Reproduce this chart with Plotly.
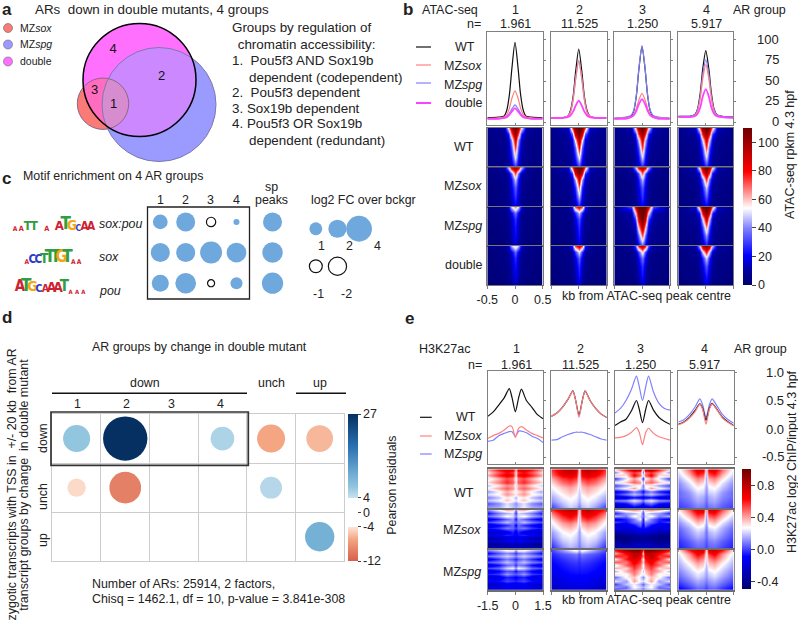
import numpy as np
import plotly.graph_objects as go

W, H = 798, 624
FONT = "Liberation Sans"
TXT = "#222222"
BASE_SIZE = 12.5

# ---------- panel a ----------
venn_names = ["MZ<i>sox</i>", "MZ<i>spg</i>", "double"]
venn_x = [103.0, 159.0, 139.5]
venn_y = [103.7, 104.5, 80.0]
venn_r = [25.7, 57.0, 56.5]
venn_colors = ["#fa7a78", "#9a9aff", "#ff70ff"]
venn_group_labels = ["1", "2", "3", "4"]
venn_group_x = [113.5, 161.5, 94.5, 113]
venn_group_y = [105, 77, 91, 50]
group_text = [
    (231, 28, "Groups by regulation of"),
    (233, 44.5, " chromatin accessibility:"),
    (231, 61, "1.&nbsp;&nbsp;Pou5f3 AND Sox19b"),
    (248, 77, "dependent (codependent)"),
    (231, 92, "2.&nbsp;&nbsp;Pou5f3 dependent"),
    (231, 108, "3. Sox19b dependent"),
    (231, 124, "4. Pou5f3 OR Sox19b"),
    (248, 140, "dependent (redundant)"),
]

# ---------- panel b ----------
ar_groups = ["1", "2", "3", "4"]
ar_counts = ["1.961", "11.525", "1.250", "5.917"]
atac_x = [-.5, -.3, -.2, -.15, -.1, -.055, 0, .055, .1, .15, .2, .3, .5]
atac_wt = [
    [5, 6, 7, 14, 34, 66, 97, 66, 34, 14, 7, 6, 5],
    [5, 5, 7, 14, 32, 62, 89, 62, 32, 14, 7, 5, 5],
    [4, 5, 7, 13, 33, 65, 92, 65, 33, 13, 7, 5, 4],
    [7, 7, 9, 16, 36, 65, 87, 65, 36, 16, 9, 7, 6],
]
atac_sox = [
    [4, 5, 6, 9, 17, 29, 38, 29, 17, 9, 6, 5, 4],
    [5, 5, 7, 12, 28, 53, 75, 53, 28, 12, 7, 5, 5],
    [4, 5, 6, 9, 17, 27, 35, 27, 17, 9, 6, 5, 4],
    [6, 6, 8, 13, 29, 53, 70, 53, 29, 13, 8, 6, 5],
]
atac_spg = [
    [4, 4, 5, 7, 11, 16, 21, 16, 11, 7, 5, 4, 4],
    [5, 5, 7, 12, 28, 53, 75, 53, 28, 12, 7, 5, 5],
    [5, 6, 8, 14, 34, 66, 93, 66, 34, 14, 8, 6, 5],
    [7, 7, 9, 15, 32, 58, 76, 58, 32, 15, 9, 7, 6],
]
atac_double = [
    [4, 4, 5, 6, 9, 13, 17, 13, 9, 6, 5, 4, 4],
    [5, 5, 6, 8, 13, 20, 26, 20, 13, 8, 6, 5, 5],
    [4, 4, 6, 8, 14, 22, 28, 22, 14, 8, 6, 4, 4],
    [6, 6, 7, 10, 18, 31, 40, 31, 18, 10, 7, 6, 5],
]
atac_heat_half_x = [.5, .2, .12, .06, 0]
atac_heat_rows = [0, .15, .3, .5, .75, 1]
atac_heat = {
    "WT": [
        [[6, 10, 55, 95, 110], [5, 8, 24, 70, 105], [5, 7, 14, 42, 92], [4, 6, 12, 30, 75], [4, 6, 10, 22, 55], [3, 5, 8, 14, 28]],
        [[7, 14, 70, 108, 110], [6, 10, 34, 88, 110], [6, 9, 17, 55, 100], [5, 8, 13, 34, 80], [5, 7, 11, 24, 55], [4, 6, 9, 15, 28]],
        [[6, 12, 58, 100, 110], [6, 9, 26, 75, 105], [5, 8, 15, 46, 92], [5, 7, 12, 30, 75], [4, 6, 10, 21, 52], [4, 5, 8, 14, 26]],
        [[6, 14, 62, 104, 110], [6, 10, 28, 80, 105], [5, 8, 15, 50, 92], [5, 7, 12, 30, 75], [4, 6, 10, 21, 52], [4, 5, 8, 14, 26]],
    ],
    "sox": [
        [[5, 10, 48, 92, 100], [4, 7, 12, 35, 75], [4, 6, 10, 22, 50], [3, 5, 9, 18, 35], [3, 5, 8, 15, 28], [3, 4, 7, 12, 20]],
        [[7, 14, 70, 110, 110], [6, 10, 28, 85, 105], [5, 8, 15, 45, 90], [5, 7, 12, 27, 68], [4, 6, 10, 19, 45], [4, 5, 8, 13, 25]],
        [[5, 10, 45, 88, 95], [4, 7, 12, 33, 72], [4, 6, 10, 23, 48], [3, 5, 9, 18, 34], [3, 5, 8, 15, 28], [3, 4, 7, 12, 20]],
        [[6, 12, 60, 100, 110], [5, 9, 21, 72, 98], [5, 7, 13, 36, 78], [4, 6, 10, 23, 50], [4, 5, 9, 17, 34], [3, 5, 7, 12, 20]],
    ],
    "spg": [
        [[4, 7, 16, 50, 68], [3, 5, 9, 20, 38], [3, 5, 8, 15, 28], [3, 4, 7, 13, 24], [2, 4, 6, 12, 22], [2, 3, 5, 9, 15]],
        [[5, 8, 25, 72, 85], [4, 6, 10, 26, 48], [4, 5, 8, 18, 32], [3, 5, 7, 14, 27], [3, 4, 6, 12, 24], [3, 4, 5, 9, 16]],
        [[8, 30, 90, 110, 110], [7, 12, 55, 105, 110], [6, 10, 30, 90, 110], [5, 8, 16, 60, 100], [5, 7, 11, 34, 72], [4, 6, 9, 18, 34]],
        [[7, 16, 70, 110, 110], [6, 10, 26, 85, 108], [6, 8, 14, 50, 95], [5, 7, 11, 30, 68], [4, 6, 9, 20, 42], [4, 5, 8, 13, 24]],
    ],
    "double": [
        [[4, 7, 15, 45, 60], [3, 5, 9, 18, 36], [3, 5, 8, 14, 27], [3, 4, 7, 12, 23], [2, 4, 6, 11, 20], [2, 3, 5, 8, 14]],
        [[5, 8, 24, 72, 88], [4, 6, 10, 28, 52], [4, 5, 8, 18, 34], [3, 5, 7, 14, 27], [3, 4, 6, 12, 24], [3, 4, 5, 9, 16]],
        [[5, 8, 30, 78, 95], [4, 6, 10, 30, 58], [4, 5, 8, 20, 38], [3, 5, 7, 15, 28], [3, 4, 6, 12, 24], [3, 4, 5, 9, 16]],
        [[6, 10, 45, 95, 105], [5, 7, 14, 48, 80], [4, 6, 10, 25, 50], [4, 5, 9, 18, 34], [3, 5, 8, 14, 26], [3, 4, 6, 10, 17]],
    ],
}

# ---------- panel c ----------
motif_names = ["sox:pou", "sox", "pou"]
motif_group_log2 = [
    [1.3, 2.17, -0.52, 0.22],
    [2.17, 2.17, 2.9, 2.33],
    [1.74, 2.57, -0.3, 0.87],
]
motif_sp_log2 = [2.17, 2.5, 2.72]
fc_legend_top = [1, 2, 4]
fc_legend_bottom = [-1, -2]
logo1_letters = ["a", "a", "T", "T", "a", "A", "T", "G", "c", "A", "A"]
logo1_pos = [0, 1, 2, 3, 5, 7, 8, 9, 10, 11, 12]
logo1_bits = [.4, .5, 1.3, 1.3, .5, 1.4, 2.0, 1.5, .7, 1.2, 1.2]
logo2_letters = ["a", "C", "C", "T", "T", "T", "G", "T", "a", "a"]
logo2_pos = [0, 1, 2, 3, 4, 5, 6, 7, 8, 9]
logo2_bits = [.4, 1.2, 1.2, 1.5, 2.0, 2.0, 2.0, 2.0, .4, .4]
logo3_letters = ["A", "T", "G", "C", "A", "A", "A", "T", "a", "a", "a"]
logo3_pos = [0, 1, 2, 3, 4, 5, 6, 7, 8, 9, 10]
logo3_bits = [1.7, 2.0, 1.6, 1.0, 1.0, 1.5, 1.5, 1.7, .3, .3, .3]
logo_colors = {"A": "#cf2230", "a": "#cf2230", "T": "#2f9e41", "G": "#f3a712", "C": "#2a3bc8", "c": "#2a3bc8"}

# ---------- panel d ----------
d_col = [1, 2, 4, 5, 6, 1, 2, 5, 6]
d_row = [1, 1, 1, 1, 1, 2, 2, 2, 3]
d_residual = [7, 27, 5.5, -7.5, -6.5, -4.6, -10.5, 5, 10]
d_weight = [10.2, 27.4, 7.8, 10.9, 9.9, 4.7, 14.0, 6.7, 12.0]
d_scale_values = [-13.4, -10.5, -7.5, -4.01, -4, 4, 4.01, 7, 10, 18, 27]
d_scale_colors = ["#d6604d", "#e48066", "#f4a582", "#fde5d9", "#ffffff", "#ffffff", "#c8e0ee", "#92c5de", "#75b0d5", "#2a71b2", "#053061"]

# ---------- panel e ----------
k27_x = [-1.5, -1.2, -.9, -.6, -.33, -.18, 0, .18, .33, .6, .9, 1.2, 1.5]
k27_wt = [
    [.22, .30, .42, .55, .71, .55, .30, .55, .70, .50, .38, .25, .18],
    [.22, .28, .38, .52, .67, .50, .24, .50, .67, .50, .36, .26, .20],
    [.06, .12, .17, .32, .50, .35, .11, .35, .50, .33, .20, .13, .08],
    [.08, .12, .20, .32, .44, .36, .15, .36, .45, .34, .20, .12, .06],
]
k27_sox = [
    [-.17, -.12, -.08, -.02, .05, .04, -.15, .01, .04, -.02, -.08, -.12, -.16],
    [.22, .28, .38, .52, .66, .50, .20, .50, .66, .50, .36, .26, .20],
    [-.16, -.15, -.12, -.06, .02, -.06, -.28, -.06, .01, -.08, -.14, -.17, -.20],
    [.07, .11, .19, .30, .43, .34, .08, .34, .44, .33, .19, .11, .05],
]
k27_spg = [
    [-.22, -.20, -.12, -.08, -.05, -.05, -.13, -.04, -.04, -.07, -.13, -.17, -.24],
    [-.20, -.19, -.14, -.10, -.07, -.06, -.06, -.06, -.07, -.10, -.14, -.18, -.20],
    [.28, .36, .50, .70, .93, .75, .50, .75, .93, .65, .45, .36, .33],
    [.12, .16, .25, .38, .53, .42, .20, .42, .53, .40, .25, .16, .10],
]
k27_heat_half_x = [1.5, .9, .45, .12, 0]
k27_heat = {
    "WT": [
        [[42, 62, 72, 70, 38], [30, 50, 62, 55, 30], [38, 58, 68, 62, 32], [22, 38, 52, 45, 22], [32, 45, 58, 50, 30], [18, 30, 42, 38, 20], [28, 40, 50, 42, 28], [12, 25, 38, 30, 22], [22, 28, 42, 35, 30], [8, 18, 30, 25, 15], [18, 25, 35, 28, 22], [2, 10, 22, 16, 10], [12, 15, 25, 18, 15], [-2, 4, 14, 8, 4]],
        [[55, 75, 80, 75, 25], [48, 68, 72, 65, 22], [38, 55, 60, 55, 20], [30, 45, 50, 42, 22], [25, 35, 40, 35, 20], [20, 30, 35, 30, 18], [15, 25, 30, 25, 18], [10, 20, 25, 22, 15], [2, 15, 22, 18, 10], [-5, 8, 16, 12, 5]],
        [[35, 60, 85, 80, 20], [8, 40, 55, 45, 8], [38, 30, 65, 48, 25], [-3, 22, 40, 25, 0], [25, 35, 50, 42, 18], [0, 12, 22, 28, 8], [15, 28, 42, 22, 12], [-15, -6, 8, 0, -10], [-3, 8, 18, 12, 4], [-25, -20, -8, -14, -16], [8, 12, 25, 18, 8], [-14, -8, 6, 0, -8], [-30, -24, -12, -18, -22], [-25, -20, -15, -12, -20]],
        [[25, 48, 72, 68, 20], [20, 38, 60, 52, 15], [15, 30, 45, 40, 12], [10, 22, 35, 30, 15], [8, 18, 28, 25, 12], [5, 12, 22, 20, 10], [5, 10, 18, 15, 8], [2, 7, 14, 12, 5], [0, 4, 10, 8, 3], [-3, 2, 6, 5, 0]],
    ],
    "sox": [
        [[8, 25, 38, 35, 5], [-8, 8, 15, 20, -2], [5, 15, 28, 22, 8], [-15, -5, 5, 12, -8], [0, 8, 18, 10, 5], [-20, -10, -3, 5, -12], [-8, -2, 8, 5, -2], [-28, -20, -15, -5, -18], [-15, -12, -5, -8, -10], [-35, -30, -22, -15, -25], [-25, -20, -15, -10, -18], [-42, -38, -32, -28, -35], [-32, -28, -30, -25, -30], [-45, -42, -38, -35, -40]],
        [[55, 72, 78, 72, 20], [42, 62, 70, 62, 18], [30, 50, 58, 50, 15], [24, 40, 45, 38, 18], [18, 32, 36, 30, 15], [12, 26, 30, 24, 12], [8, 22, 25, 20, 12], [3, 18, 22, 18, 10], [-3, 12, 18, 14, 8], [-10, 5, 12, 10, 5]],
        [[20, 35, 42, 35, 12], [-5, 12, 15, 25, 2], [15, 8, 28, 20, 5], [-15, -5, 8, 25, -5], [0, -8, 5, 10, -5], [-22, -15, -8, 5, -12], [-12, -20, -15, -8, -10], [-35, -28, -25, -20, -25], [-42, -40, -38, -32, -35], [-48, -45, -42, -40, -42], [-38, -42, -35, -38, -32], [-30, -35, -28, -25, -30], [-35, -28, -32, -30, -28], [-25, -30, -22, -20, -25]],
        [[28, 50, 72, 70, 15], [22, 40, 60, 55, 12], [15, 30, 45, 40, 10], [10, 22, 35, 30, 12], [5, 15, 25, 22, 8], [2, 12, 20, 16, 6], [0, 8, 15, 12, 5], [-3, 4, 10, 8, 2], [-5, 1, 6, 5, 0], [-7, -2, 4, 3, 0]],
    ],
    "spg": [
        [[8, 18, 28, 30, 12], [-10, 2, 10, 5, -2], [5, 12, 20, 15, 8], [-15, -3, 8, 2, -5], [2, 8, 18, 12, 5], [-18, -8, 5, 8, -3], [0, 5, 20, 25, 10], [-20, -10, 2, 0, -8], [-5, -2, 12, 5, 3], [-22, -15, -5, -8, -12], [-10, -8, 0, -3, -5], [-28, -22, -12, -15, -18], [-18, -15, -10, -12, -12], [-35, -30, -25, -22, -28]],
        [[0, 12, 22, 30, 15], [-5, 2, 5, 8, 2], [-8, -3, 0, 2, -2], [-10, -6, -3, -2, -4], [-12, -8, -6, -5, -6], [-15, -10, -8, -7, -8], [-18, -14, -10, -10, -10], [-20, -16, -13, -12, -14], [-24, -20, -18, -16, -16], [-28, -24, -22, -20, -22]],
        [[62, 88, 95, 95, 55], [40, 65, 80, 78, 35], [58, 55, 80, 68, 45], [30, 58, 72, 60, 28], [50, 45, 68, 55, 35], [22, 48, 60, 48, 25], [38, 32, 55, 42, 30], [15, 38, 48, 35, 18], [32, 25, 45, 30, 28], [5, 28, 35, 22, 10], [22, 12, 40, 25, 22], [0, 18, 25, 15, 5], [12, 5, 28, 20, 15], [-8, 8, 15, 10, 0]],
        [[30, 60, 75, 72, 30], [22, 42, 65, 55, 25], [18, 35, 50, 42, 20], [15, 28, 40, 35, 18], [12, 22, 32, 28, 15], [8, 18, 26, 22, 14], [5, 14, 22, 18, 12], [0, 8, 15, 12, 8], [-5, 3, 10, 8, 3], [-12, -5, 3, 2, -3]],
    ],
}

C_WT, C_SOX, C_SPG, C_DBL = "#111111", "#ff8080", "#8080ff", "#ff40ff"
GREY = "#808080"

traces, annotations, shapes = [], [], []
layout = {}
axis_count = 0


def axes(x0, x1, y0, y1, xr, yr, xkw=None, ykw=None):
    """Create one pair of axes placed by pixel box."""
    global axis_count
    axis_count += 1
    s = "" if axis_count == 1 else str(axis_count)
    base = dict(showgrid=False, zeroline=False, showticklabels=False, ticks="", showline=False, fixedrange=True)
    xa = dict(base, domain=[x0 / W, x1 / W], range=xr, anchor="y" + s)
    ya = dict(base, domain=[1 - y1 / H, 1 - y0 / H], range=yr, anchor="x" + s)
    xa.update(xkw or {})
    ya.update(ykw or {})
    layout["xaxis" + s] = xa
    layout["yaxis" + s] = ya
    return "x" + s, "y" + s


def txt(x, y, s, anchor="left", size=None, angle=0, color=TXT, bold=False):
    if bold:
        s = "<b>" + s + "</b>"
    annotations.append(dict(x=x / W, y=1 - y / H, xref="paper", yref="paper", text=s, showarrow=False,
                            xanchor=anchor, yanchor="middle", textangle=angle,
                            font=dict(family=FONT, size=size or BASE_SIZE, color=color), borderpad=0))


def seg(x0, y0, x1, y1, color="#111111", width=1.5):
    shapes.append(dict(type="line", xref="paper", yref="paper", x0=x0 / W, x1=x1 / W, y0=1 - y0 / H, y1=1 - y1 / H,
                       line=dict(color=color, width=width)))


def mirror(half):
    return list(half) + list(half[-2::-1])


def lens(i, j, n=80):
    """Outline of the overlap of two Venn circles."""
    a = np.array([venn_x[i], venn_y[i]])
    b = np.array([venn_x[j], venn_y[j]])
    pts = []
    for c, o, r, ro in ((a, b, venn_r[i], venn_r[j]), (b, a, venn_r[j], venn_r[i])):
        d = np.hypot(*(o - c))
        base = np.arctan2(*(o - c)[::-1])
        half = np.arccos((d * d + r * r - ro * ro) / (2 * d * r))
        t = np.linspace(base - half, base + half, n)
        pts.append(np.c_[c[0] + r * np.cos(t), c[1] + r * np.sin(t)])
    return np.vstack(pts)


# ---------- panel a drawing ----------
BASE_SIZE = 13.4
xa, ya = axes(60, 230, 15, 170, [60, 230], [170, 15])
for idx in (1, 0, 2):
    traces.append(go.Scatter(x=[venn_x[idx]], y=[venn_y[idx]], mode="markers", xaxis=xa, yaxis=ya, cliponaxis=False,
                             marker=dict(size=2 * venn_r[idx], color=venn_colors[idx], line=dict(width=0))))
for (i, j), col in (((2, 1), "#cc88ff"), ((2, 0), "#ff6cc0"), ((0, 1), "#d88cd0")):
    p = lens(i, j)
    traces.append(go.Scatter(x=p[:, 0], y=p[:, 1], mode="lines", fill="toself", fillcolor=col, xaxis=xa, yaxis=ya,
                             line=dict(width=0), cliponaxis=False))
for idx, lc, lw in ((0, "#8a6a80", 1), (1, "#7a7ab0", 1), (2, "#000000", 1.5)):
    traces.append(go.Scatter(x=[venn_x[idx]], y=[venn_y[idx]], mode="markers", xaxis=xa, yaxis=ya, cliponaxis=False,
                             marker=dict(size=2 * venn_r[idx], color="rgba(0,0,0,0)", line=dict(width=lw, color=lc))))
traces.append(go.Scatter(x=venn_group_x, y=venn_group_y, mode="text", text=venn_group_labels, xaxis=xa, yaxis=ya,
                         textfont=dict(family=FONT, size=13, color="#111111"), cliponaxis=False))
xa, ya = axes(0, 60, 15, 75, [0, 60], [75, 15])
traces.append(go.Scatter(x=[8, 8, 8], y=[28, 44.5, 61.5], mode="markers", xaxis=xa, yaxis=ya,
                         marker=dict(size=9, color=["#fa7a78", "#9a9aff", "#ff70ff"], line=dict(width=.7, color="#777777"))))
for name, y in zip(venn_names, [28, 44.5, 61.5]):
    txt(19, y, name, size=10.5)
txt(1, 10, "a", size=17, bold=True)
txt(34, 10, "ARs&nbsp;&nbsp;down in double mutants, 4 groups")
for x, y, s in group_text:
    txt(x, y, s)

# ---------- panel b drawing ----------
BASE_SIZE = 12.5
col_x = [(487.3, 542.7), (551, 606.5), (614.3, 669.7), (678.3, 733.3)]
txt(402, 10, "b", size=17, bold=True)
txt(421, 10, "ATAC-seq")
txt(732, 10, "AR group")
txt(482, 24, "n=", "right")
for c, cx, cn in zip(ar_groups, [515, 579, 642, 706], ar_counts):
    txt(cx, 10, c, "center")
    txt(cx, 24, cn, "center")
for i, (x0, x1) in enumerate(col_x):
    xa, ya = axes(x0, x1, 32, 125, [-.5, .5], [-3.6, 109.7],
                  dict(tickvals=[-.5, 0, .5], ticks="inside", ticklen=2, tickcolor=GREY, showline=True, mirror=True, linecolor=GREY),
                  dict(tickvals=[0, 25, 50, 75, 100], ticks="outside", ticklen=2, tickcolor=GREY, side="right", showline=True, mirror=True, linecolor=GREY))
    for ser, col, w in ((atac_wt, C_WT, 1.2), (atac_spg, C_SPG, 1.2), (atac_sox, C_SOX, 1.2), (atac_double, C_DBL, 1.8)):
        traces.append(go.Scatter(x=atac_x, y=ser[i], mode="lines", xaxis=xa, yaxis=ya,
                                 line=dict(color=col, width=w, shape="spline", smoothing=.7)))
for y, col, w in ((47, C_WT, 1.2), (65, C_SOX, 1.2), (83, C_SPG, 1.2), (103, C_DBL, 2)):
    seg(416, y, 431, y, col, w)
txt(465, 47, "WT", "center")
txt(483, 66, "MZ<i>sox</i>", "right")
txt(483, 85, "MZ<i>spg</i>", "right")
txt(484, 103, "double", "right")
for v, y in zip(["100", "75", "50", "25", "0"], [39.5, 60, 80.5, 101, 122]):
    txt(780, y, v, "right", size=13)

b_rows = [("WT", 128, 167.3), ("sox", 167.3, 206.7), ("spg", 206.7, 246), ("double", 246, 285)]
heat_x_b = [-v for v in atac_heat_half_x] + atac_heat_half_x[-2::-1]
for key, y0, y1 in b_rows:
    for i, (x0, x1) in enumerate(col_x):
        xkw = dict(showline=True, mirror=True, linecolor="#777777", linewidth=1)
        if key == "double":
            xkw.update(tickvals=[-.5, 0, .5], ticks="outside", ticklen=3, tickcolor=GREY)
            if i == 0:
                xkw.update(showticklabels=True, ticktext=["-0.5", "0", "0.5"],
                           tickfont=dict(family=FONT, size=12.5, color=TXT))
        xa, ya = axes(x0, x1, y0, y1, [-.5, .5], [1, 0], xkw, dict(showline=True, mirror=True, linecolor="#777777"))
        z = [mirror(r) for r in atac_heat[key][i]]
        traces.append(go.Heatmap(x=heat_x_b, y=atac_heat_rows, z=z, coloraxis="coloraxis", zsmooth="best", xaxis=xa, yaxis=ya,
                                 hoverinfo="skip"))
txt(464, 147, "WT", "center")
txt(483, 186, "MZ<i>sox</i>", "right")
txt(483, 226, "MZ<i>spg</i>", "right")
txt(484, 265, "double", "right")
txt(561, 296, "kb from ATAC-seq peak centre")
txt(790, 155, "ATAC-seq rpkm 4.3 hpf", "center", angle=-90)

layout["coloraxis"] = dict(cmin=0, cmax=110, colorscale=[[0, "#000070"], [.09, "#00009c"], [.19, "#0000ff"], [.36, "#8080ff"], [.49, "#ffffff"], [.72, "#ff0000"], [1, "#6e0000"]],
                           colorbar=dict(x=743 / W, xanchor="left", y=1 - 128 / H, yanchor="top", lenmode="pixels", len=157, thicknessmode="pixels", thickness=9,
                                         tickvals=[0, 20, 40, 60, 80, 100], ticks="outside", ticklen=4, outlinewidth=0, xpad=0, ypad=0,
                                         tickfont=dict(family=FONT, size=12.5, color=TXT)))

# ---------- panel c drawing ----------
BASE_SIZE = 12.4
txt(1, 178, "c", size=17, bold=True)
txt(22, 176, "Motif enrichment on 4 AR groups")
for c, x in zip(ar_groups, [160, 185, 210.5, 236]):
    txt(x, 200, c, "center")
txt(271, 187, "sp", "center")
txt(271, 200, "peaks", "center")
txt(310, 200, "log2 FC over bckgr")
for name, y in zip(motif_names, [224.5, 257, 291]):
    txt(98, y, "<i>%s</i>" % name)

BLUE = "#6fa8dc"
SIZEREF = 2 / 12.9 ** 2
xa, ya = axes(147.5, 290, 207, 299, [.4957, 6.1087], [3.5147, .5131])
xs, ys, vs = [], [], []
for r, row in enumerate(motif_group_log2):
    for c, v in enumerate(row):
        xs.append(c + 1); ys.append(r + 1); vs.append(v)
    xs.append(5.42); ys.append(r + 1); vs.append(motif_sp_log2[r])
vs = np.array(vs)
traces.append(go.Scatter(x=np.array(xs)[vs > 0], y=np.array(ys)[vs > 0], mode="markers", xaxis=xa, yaxis=ya, cliponaxis=False,
                         marker=dict(size=vs[vs > 0], sizemode="area", sizeref=SIZEREF, color=BLUE, opacity=1, line=dict(width=0))))
traces.append(go.Scatter(x=np.array(xs)[vs < 0], y=np.array(ys)[vs < 0], mode="markers", xaxis=xa, yaxis=ya, cliponaxis=False,
                         marker=dict(size=-vs[vs < 0], sizemode="area", sizeref=SIZEREF, color="white", opacity=1, line=dict(width=1.2, color="#111111"))))
shapes.append(dict(type="rect", xref="paper", yref="paper", x0=147.5 / W, x1=249.5 / W, y0=1 - 299 / H, y1=1 - 207 / H,
                   line=dict(color="#222222", width=1.3)))
xa, ya = axes(305, 400, 210, 285, [.5, 4.892], [2.5, .5])
top_v = np.array(fc_legend_top, float)
traces.append(go.Scatter(x=[1, 2, 3], y=[1, 1, 1], mode="markers", xaxis=xa, yaxis=ya, cliponaxis=False,
                         marker=dict(size=top_v, sizemode="area", sizeref=SIZEREF, color=BLUE, opacity=1, line=dict(width=0))))
traces.append(go.Scatter(x=[1, 2], y=[2, 2], mode="markers", xaxis=xa, yaxis=ya, cliponaxis=False,
                         marker=dict(size=-np.array(fc_legend_bottom, float), sizemode="area", sizeref=SIZEREF, color="white", opacity=1,
                                     line=dict(width=1.2, color="#111111"))))
for x, v in zip([321, 349, 377], fc_legend_top):
    txt(x, 246, str(v), "center")
for x, v in zip([318, 346], fc_legend_bottom):
    txt(x, 294, str(v), "center")

for (x0, x1, y1, n, letters, pos, bits) in (
    (15, 91, 233, 12, logo1_letters, logo1_pos, logo1_bits),
    (26.7, 79, 266, 9, logo2_letters, logo2_pos, logo2_bits),
    (20, 83.3, 295, 10, logo3_letters, logo3_pos, logo3_bits),
):
    xa, ya = axes(x0, x1, y1 - 24, y1, [0, n], [0, 2.4])
    traces.append(go.Scatter(x=pos, y=[0] * len(pos), mode="text", text=[l.upper() for l in letters], xaxis=xa, yaxis=ya,
                             cliponaxis=False, textposition="top center",
                             textfont=dict(family="Liberation Sans Narrow, DejaVu Sans Condensed", size=[4 + 6.5 * b for b in bits],
                                           weight="bold", color=[logo_colors[l] for l in letters])))

# ---------- panel d drawing ----------
txt(1, 317, "d", size=17, bold=True)
txt(91, 346.7, "AR groups by change in double mutant")
txt(144.7, 383, "down", "center")
txt(271, 383, "unch", "center")
txt(320, 383, "up", "center")
seg(52, 393.3, 247, 393.3)
seg(296, 393.3, 346, 393.3)
for c, x in zip(ar_groups, [77.3, 126, 171.7, 220.7]):
    txt(x, 404.3, c, "center")
for s, y in zip(["down", "unch", "up"], [438, 497, 540]):
    txt(43, y, s, "center", angle=-90)
txt(11.5, 485, "zygotic transcripts with TSS in&nbsp;&nbsp;+/- 20 kb&nbsp;&nbsp;from AR", "center", angle=-90)
txt(23.7, 485, "transcript groups by change&nbsp;&nbsp;in double mutant", "center", angle=-90)
txt(391.7, 485, "Pearson residuals", "center", angle=-90)
txt(90.5, 584, "Number of ARs: 25914, 2 factors,")
txt(90.5, 599.3, "Chisq = 1462.1, df = 10, p-value = 3.841e-308")

grid = dict(showgrid=True, gridcolor="#cccccc", gridwidth=1, showline=True, mirror=True, linecolor="#cccccc")
xa, ya = axes(52.3, 344, 414, 561.3, [.5, 6.5], [3.5, .5],
              dict(grid, tickvals=[.5, 1.5, 2.5, 3.5, 4.5, 5.5, 6.5]), dict(grid, tickvals=[.5, 1.5, 2.5, 3.5]))
traces.append(go.Scatter(x=d_col, y=d_row, mode="markers", xaxis=xa, yaxis=ya, cliponaxis=False,
                         marker=dict(size=d_weight, sizemode="area", sizeref=2 / 8.47 ** 2, color=d_residual, opacity=1, coloraxis="coloraxis3", line=dict(width=0))))
shapes.append(dict(type="rect", xref="paper", yref="paper", x0=51 / W, x1=248.3 / W, y0=1 - 465.3 / H, y1=1 - 412 / H,
                   line=dict(color="#333333", width=1.7)))
span = d_scale_values[-1] - d_scale_values[0]
layout["coloraxis3"] = dict(cmin=d_scale_values[0], cmax=d_scale_values[-1],
                            colorscale=[[(v - d_scale_values[0]) / span, c] for v, c in zip(d_scale_values, d_scale_colors)],
                            colorbar=dict(x=348.3 / W, xanchor="left", y=1 - 414 / H, yanchor="top", lenmode="pixels", len=147.3, thicknessmode="pixels", thickness=10,
                                          tickvals=[27, 4, 0, -4, -13.4], ticktext=["27", "4", "0", "-4", "-12"], ticks="outside", ticklen=3, outlinewidth=0, xpad=0, ypad=0,
                                          tickfont=dict(family=FONT, size=12.5, color=TXT)))

# ---------- panel e drawing ----------
BASE_SIZE = 12.5
col_e = [(487.7, 543), (551.3, 606.7), (615, 670), (678.3, 733.7)]
txt(404, 318, "e", size=17, bold=True)
txt(418, 349.3, "H3K27ac")
txt(733, 349.3, "AR group")
txt(483, 365, "n=", "right")
for c, cx, cn in zip(ar_groups, [516, 580, 640, 704], ar_counts):
    txt(cx, 349.3, c, "center")
    txt(cx, 364.5, cn, "center")
for i, (x0, x1) in enumerate(col_e):
    xa, ya = axes(x0, x1, 371, 464, [-1.5, 1.5], [-.62, 1.02],
                  dict(tickvals=[-1.5, 0, 1.5], ticks="inside", ticklen=2, tickcolor=GREY, showline=True, mirror=True, linecolor=GREY),
                  dict(tickvals=[-.5, 0, .5, 1], ticks="outside", ticklen=2, tickcolor=GREY, side="right", showline=True, mirror=True, linecolor=GREY))
    for ser, col in ((k27_spg, C_SPG), (k27_wt, C_WT), (k27_sox, C_SOX)):
        traces.append(go.Scatter(x=k27_x, y=ser[i], mode="lines", xaxis=xa, yaxis=ya,
                                 line=dict(color=col, width=1.2, shape="spline", smoothing=.7)))
for y, col in ((417.3, C_WT), (436, C_SOX), (454, C_SPG)):
    seg(420, y, 431.7, y, col, 1.2)
txt(465.7, 417.3, "WT", "center")
txt(483, 436, "MZ<i>sox</i>", "right")
txt(483, 454, "MZ<i>spg</i>", "right")
for v, y in zip(["1.0", "0.5", "0.0", "-0.5"], [372.3, 400.7, 429, 457]):
    txt(785, y, v, "right", size=13)

e_rows = [("WT", 469.3, 510), ("sox", 510, 550), ("spg", 550, 589.7)]
heat_x_e = [-v for v in k27_heat_half_x] + k27_heat_half_x[-2::-1]
for key, y0, y1 in e_rows:
    for i, (x0, x1) in enumerate(col_e):
        xkw = dict(showline=True, mirror=True, linecolor="#6e6e6e", linewidth=2)
        if key == "spg":
            xkw.update(tickvals=[-1.5, 0, 1.5], ticks="outside", ticklen=3, tickcolor=GREY)
            if i == 0:
                xkw.update(showticklabels=True, ticktext=["-1.5", "0", "1.5"],
                           tickfont=dict(family=FONT, size=12.5, color=TXT))
        xa, ya = axes(x0, x1, y0, y1, [-1.5, 1.5], [1, 0], xkw, dict(showline=True, mirror=True, linecolor="#8a8a8a", linewidth=1))
        rows = k27_heat[key][i]
        z = [mirror(np.array(r) / 100) for r in rows]
        traces.append(go.Heatmap(x=heat_x_e, y=[r / (len(rows) - 1) for r in range(len(rows))], z=z, coloraxis="coloraxis2",
                                 zsmooth="best", xaxis=xa, yaxis=ya, hoverinfo="skip"))
txt(464, 492.7, "WT", "center")
txt(482, 530, "MZ<i>sox</i>", "right")
txt(482, 571.7, "MZ<i>spg</i>", "right")
txt(561, 600, "kb from ATAC-seq peak centre")
txt(792, 462, "H3K27ac log2 ChIP/input 4.3 hpf", "center", angle=-90)

layout["coloraxis2"] = dict(cmin=-.5, cmax=1.0, colorscale=[[0, "#00006e"], [.27, "#0000ff"], [.51, "#ffffff"], [.75, "#ff0000"], [1, "#6e0000"]],
                            colorbar=dict(x=742.3 / W, xanchor="left", y=1 - 469.3 / H, yanchor="top", lenmode="pixels", len=120.4, thicknessmode="pixels", thickness=8.5,
                                          tickvals=[-.4, 0, .4, .8], ticktext=["-0.4", "0.0", "0.4", "0.8"], ticks="outside", ticklen=4, outlinewidth=0, xpad=0, ypad=0,
                                          tickfont=dict(family=FONT, size=12.5, color=TXT)))

fig = go.Figure(data=traces)
fig.update_layout(width=W, height=H, margin=dict(l=0, r=0, t=0, b=0, pad=0, autoexpand=False), autosize=False,
                  showlegend=False, plot_bgcolor="white", paper_bgcolor="white",
                  font=dict(family=FONT, size=13, color=TXT), annotations=annotations, shapes=shapes, **layout)
fig.write_html("out.html", post_script="document.body.style.margin='0';document.body.style.overflow='hidden';",
               config=dict(displayModeBar=False))
